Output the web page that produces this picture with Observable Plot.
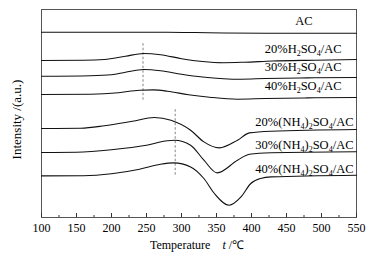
<!DOCTYPE html>
<html><head><meta charset="utf-8">
<script src="https://cdn.jsdelivr.net/npm/d3@7"></script>
<script src="https://cdn.jsdelivr.net/npm/@observablehq/plot@0.6"></script>
<style>body{margin:0;background:#fff}</style>
</head><body><div id="chart"></div>
<script>
// Temperature (°C) and intensity (a.u., arbitrary offset units)
const acT  = [100,200,280,320,360,420,550];
const acI  = [185.3,185.3,185.3,185,184.5,184.3,184.3];
const h20T = [100,160,190,220,246,270,300,330,360,390,430,490,550];
const h20I = [157,157.2,158,161.3,164,162.8,158.8,156,154.8,155.3,156.5,157.3,158];
const h30T = [100,170,200,220,246,270,300,330,360,385,420,480,550];
const h30I = [141.3,141.8,142.8,145.3,148,146.8,143.3,140.5,138.8,138.3,139,139.6,140];
const h40T = [100,170,210,240,260,280,310,340,380,420,480,550];
const h40I = [123,123.3,124.8,127.3,127.6,126.3,122.8,120.3,118.3,119,119.6,120];
const n20T = [100,156,190,230,261,285,313,332,354,380,397,428,550];
const n20I = [89,89.3,91.8,96.3,100,97.3,87.3,75.6,69.6,77.3,84.6,86.3,88];
const n30T = [100,150,200,250,280,290,313,332,351,380,397,428,550];
const n30I = [65,65.3,67.8,72.3,76.8,77.3,72.3,57.3,44.6,57.3,63.3,64.8,65.8];
const n40T = [100,160,200,240,270,289,313,332,347,368,385,399,413,428,550];
const n40I = [41.6,41.8,43.8,48.3,53.3,54.6,50.6,39,24,12.3,20.6,34,39,40.6,42.3];

const seriesNames = ["AC","20%H_2SO_4/AC","30%H_2SO_4/AC","40%H_2SO_4/AC",
  "20%(NH_4)_2SO_4/AC","30%(NH_4)_2SO_4/AC","40%(NH_4)_2SO_4/AC"];
const seriesT = [acT,h20T,h30T,h40T,n20T,n30T,n40T];
const seriesI = [acI,h20I,h30I,h40I,n20I,n30I,n40I];
const labelI = [196.3,168.8,150.8,131.3,95.3,73,48.8];
const labelGroup = ["ac","h","h","h","n","n","n"];

const dashT = [245,291];
const dashLo = [117.3,42.3];
const dashHi = [175.3,108.3];

const majorTicks = [100,150,200,250,300,350,400,450,500,550];
const minorTicks = [125,175,225,275,325,375,425,475,525];
const xLabel = "Temperature\u2003*t* /\u2103";
const yLabel = "Intensity /(a.u.)";

const rows = [];
seriesNames.forEach((s,i) => seriesT[i].forEach((t,j) => rows.push({s, T:t, I:seriesI[i][j]})));
const labels = seriesNames.map((s,i) => ({s, I: labelI[i], g: labelGroup[i]}));
const dashes = dashT.map((t,i) => ({T:t, lo:dashLo[i], hi:dashHi[i]}));

const font = "'Liberation Serif','Times New Roman',serif";
const chart = Plot.plot({
  width: 373, height: 254,
  marginLeft: 41, marginRight: 17, marginTop: 9, marginBottom: 37,
  style: {fontFamily: font, fontSize: "12px", background: "#fff", color: "#000"},
  x: {domain: [100,550], label: null},
  y: {domain: [0,208], axis: null},
  marks: [
    Plot.frame({stroke: "#555"}),
    Plot.axisX(minorTicks, {tickSize: -2, tickFormat: () => "", label: null, stroke: "#333"}),
    Plot.axisX(majorTicks, {tickSize: -4, tickPadding: 9.5, label: null, fontSize: 12, stroke: "#333"}),
    Plot.ruleX(dashes, {x: "T", y1: "lo", y2: "hi", stroke: "#666", strokeWidth: 0.8, strokeDasharray: "2.5,2"}),
    Plot.line(rows, {x: "T", y: "I", z: "s", curve: "monotone-x", stroke: "#111", strokeWidth: 1.1}),
    Plot.text(labels.filter(d => d.g === "ac"), {y: "I", text: "s", frameAnchor: "right", dx: -44, textAnchor: "end", lineAnchor: "middle", fontSize: 12.5}),
    Plot.text(labels.filter(d => d.g === "h"), {y: "I", text: "s", frameAnchor: "right", dx: -15, textAnchor: "end", lineAnchor: "middle", fontSize: 12.5}),
    Plot.text(labels.filter(d => d.g === "n"), {y: "I", text: "s", frameAnchor: "right", dx: -3, textAnchor: "end", lineAnchor: "middle", fontSize: 12.5}),
    Plot.text([yLabel], {frameAnchor: "left", rotate: -90, dx: -25, dy: 6, textAnchor: "middle", lineAnchor: "middle", fontSize: 13}),
    Plot.text([xLabel], {frameAnchor: "bottom", dy: 28, dx: -2, textAnchor: "middle", lineAnchor: "middle", fontSize: 12})
  ]
});

const NS = "http://www.w3.org/2000/svg";
chart.querySelectorAll("text").forEach(el => {
  const s = el.textContent;
  if (!/[_*]/.test(s)) return;
  el.textContent = "";
  const re = /_(.)|\*([^*]+)\*|([^_*]+)/g;
  let m, sub = false;
  while ((m = re.exec(s))) {
    const t = document.createElementNS(NS, "tspan");
    if (m[1]) {
      t.textContent = m[1]; t.setAttribute("font-size", "8");
      if (!sub) t.setAttribute("dy", "3");
      sub = true;
    } else {
      t.textContent = m[2] || m[3];
      if (m[2]) t.setAttribute("font-style", "italic");
      if (sub) { t.setAttribute("dy", "-3"); sub = false; }
    }
    el.appendChild(t);
  }
});
document.getElementById("chart").appendChild(chart);
</script>
</body></html>
